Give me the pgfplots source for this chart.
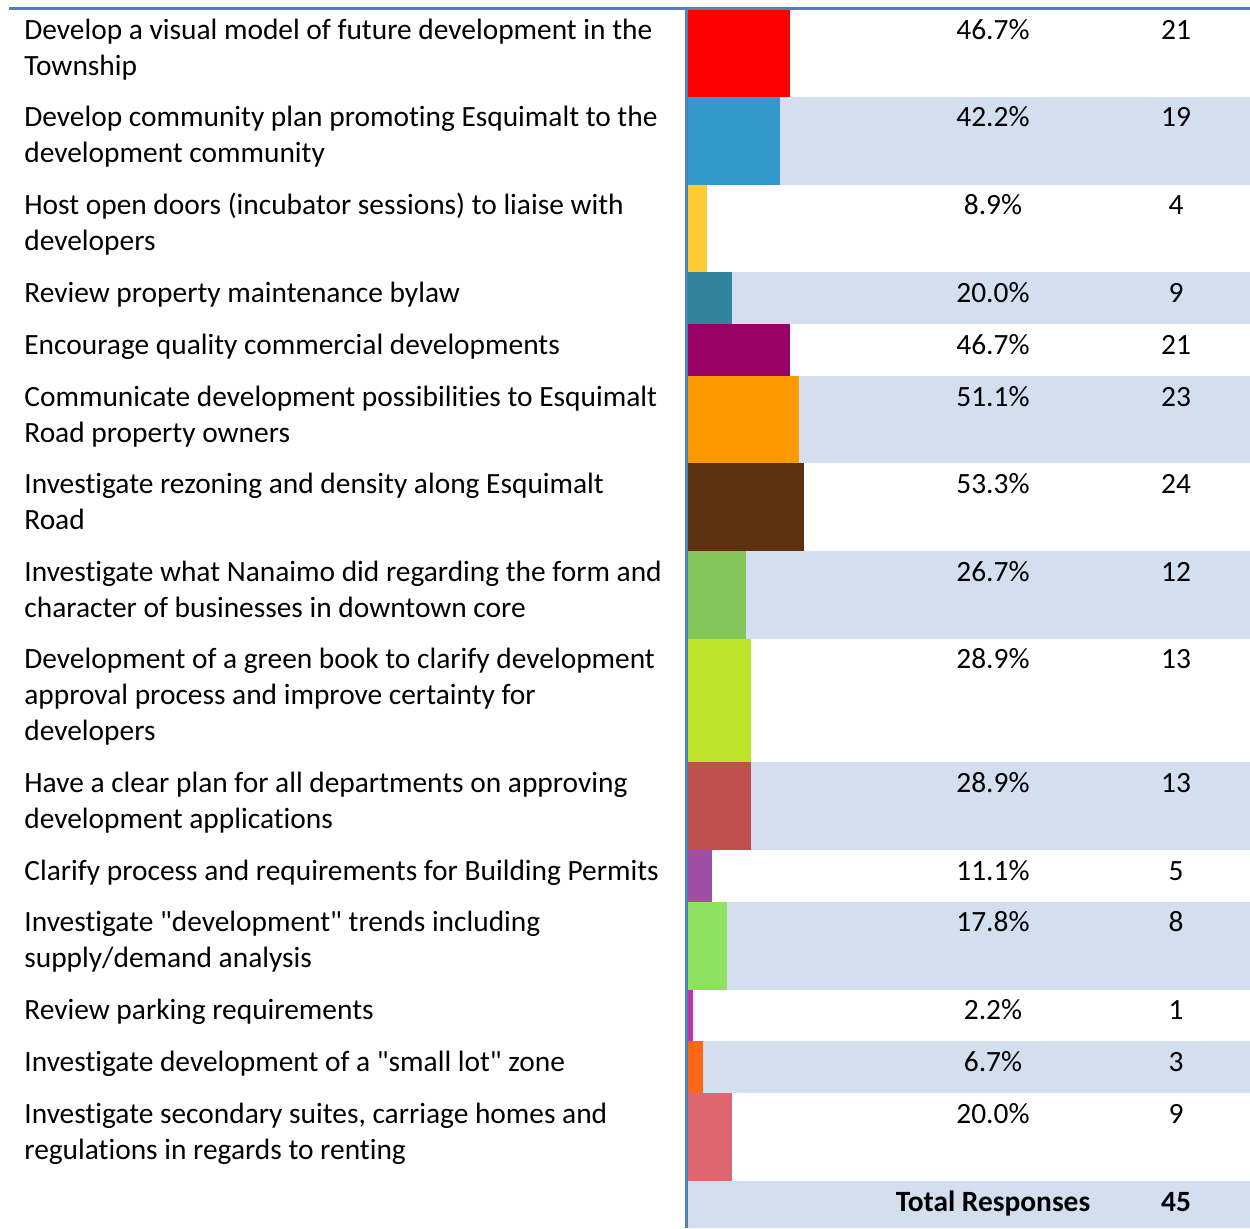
\documentclass[border=0pt]{standalone}
\usepackage{fontspec}
\setmainfont{Carlito}[Ligatures={NoCommon,TeXOff}]
\usepackage{pgfplots}
\pgfplotsset{compat=1.18}
\definecolor{rowshade}{HTML}{D3DFEE}
\definecolor{rulecol}{HTML}{4F81BD}
\definecolor{c1}{HTML}{FF0000}
\definecolor{c2}{HTML}{3399CC}
\definecolor{c3}{HTML}{FFCC33}
\definecolor{c4}{HTML}{31849B}
\definecolor{c5}{HTML}{990066}
\definecolor{c6}{HTML}{FF9900}
\definecolor{c7}{HTML}{5C3011}
\definecolor{c8}{HTML}{82C65A}
\definecolor{c9}{HTML}{BFE22B}
\definecolor{c10}{HTML}{C0504D}
\definecolor{c11}{HTML}{9E4FA5}
\definecolor{c12}{HTML}{8EE25F}
\definecolor{c13}{HTML}{C032B0}
\definecolor{c14}{HTML}{FF661A}
\definecolor{c15}{HTML}{DF6673}

% label line: baseline y (px), text
\newcommand\lbl[2]{\node[anchor=base west] at (axis cs:-304.6,#1+3) {#2};}
% value and count at baseline y
\newcommand\val[3]{%
  \node[anchor=base] at (axis cs:139.9,#1+3) {#2};
  \node[anchor=base] at (axis cs:223.9,#1+3) {#3};}
% one bar: top, bottom, percent, colour
\newcommand\rowbar[4]{%
  \addplot[xbar, bar shift=0pt, bar width=\the\numexpr#2-#1\relax, fill=#4, draw=none]
    coordinates {(#3,{(#1+#2)/2})};}

\begin{document}
\begin{tikzpicture}[font=\fontsize{14.7pt}{18pt}\selectfont, inner sep=0pt]
\begin{axis}[
    scale only axis,
    width=625pt, height=614pt,
    xmin=-315.6, xmax=257.8,
    ymin=0, ymax=1228, y dir=reverse,
    hide axis, clip=false,
]
\path (rel axis cs:0,0) rectangle (rel axis cs:1,1);
% alternating row shading
\fill[rowshade] (axis cs:0,97) rectangle (axis cs:257.8,185);
\fill[rowshade] (axis cs:0,272) rectangle (axis cs:257.8,324);
\fill[rowshade] (axis cs:0,376) rectangle (axis cs:257.8,463);
\fill[rowshade] (axis cs:0,551) rectangle (axis cs:257.8,639);
\fill[rowshade] (axis cs:0,762) rectangle (axis cs:257.8,850);
\fill[rowshade] (axis cs:0,902) rectangle (axis cs:257.8,990);
\fill[rowshade] (axis cs:0,1041) rectangle (axis cs:257.8,1093);
\fill[rowshade] (axis cs:0,1181) rectangle (axis cs:257.8,1228);

% bars (percent of responses)
\rowbar{10}{97}{46.7}{c1}
\rowbar{97}{185}{42.2}{c2}
\rowbar{185}{272}{8.9}{c3}
\rowbar{272}{324}{20.0}{c4}
\rowbar{324}{376}{46.7}{c5}
\rowbar{376}{463}{51.1}{c6}
\rowbar{463}{551}{53.3}{c7}
\rowbar{551}{639}{26.7}{c8}
\rowbar{639}{762}{28.9}{c9}
\rowbar{762}{850}{28.9}{c10}
\rowbar{850}{902}{11.1}{c11}
\rowbar{902}{990}{17.8}{c12}
\rowbar{990}{1041}{2.2}{c13}
\rowbar{1041}{1093}{6.7}{c14}
\rowbar{1093}{1181}{20.0}{c15}

% rules
\fill[rulecol] (axis cs:-311.5,7) rectangle (axis cs:257.8,10);
\fill[rulecol] (axis cs:-1.4,7) rectangle (axis cs:0,1228);

% labels
\lbl{36}{Develop a visual model of future development in the}
\lbl{72}{Township}
\lbl{123}{Develop community plan promoting Esquimalt to the}
\lbl{159}{development community}
\lbl{211}{Host open doors (incubator sessions) to liaise with}
\lbl{247}{developers}
\lbl{299}{Review property maintenance bylaw}
\lbl{351}{Encourage quality commercial developments}
\lbl{403}{Communicate development possibilities to Esquimalt}
\lbl{439}{Road property owners}
\lbl{490}{Investigate rezoning and density along Esquimalt}
\lbl{526}{Road}
\lbl{578}{Investigate what Nanaimo did regarding the form and}
\lbl{614}{character of businesses in downtown core}
\lbl{665}{Development of a green book to clarify development}
\lbl{701}{approval process and improve certainty for}
\lbl{737}{developers}
\lbl{789}{Have a clear plan for all departments on approving}
\lbl{825}{development applications}
\lbl{877}{Clarify process and requirements for Building Permits}
\lbl{928}{Investigate "development" trends including}
\lbl{964}{supply/demand analysis}
\lbl{1016}{Review parking requirements}
\lbl{1068}{Investigate development of a "small lot" zone}
\lbl{1120}{Investigate secondary suites, carriage homes and}
\lbl{1156}{regulations in regards to renting}

% values and counts
\val{36}{46.7\%}{21}
\val{123}{42.2\%}{19}
\val{211}{8.9\%}{4}
\val{299}{20.0\%}{9}
\val{351}{46.7\%}{21}
\val{403}{51.1\%}{23}
\val{490}{53.3\%}{24}
\val{578}{26.7\%}{12}
\val{665}{28.9\%}{13}
\val{789}{28.9\%}{13}
\val{877}{11.1\%}{5}
\val{928}{17.8\%}{8}
\val{1016}{2.2\%}{1}
\val{1068}{6.7\%}{3}
\val{1120}{20.0\%}{9}
\val{1208}{\bfseries Total Responses}{\bfseries 45}
\end{axis}
\end{tikzpicture}
\end{document}
